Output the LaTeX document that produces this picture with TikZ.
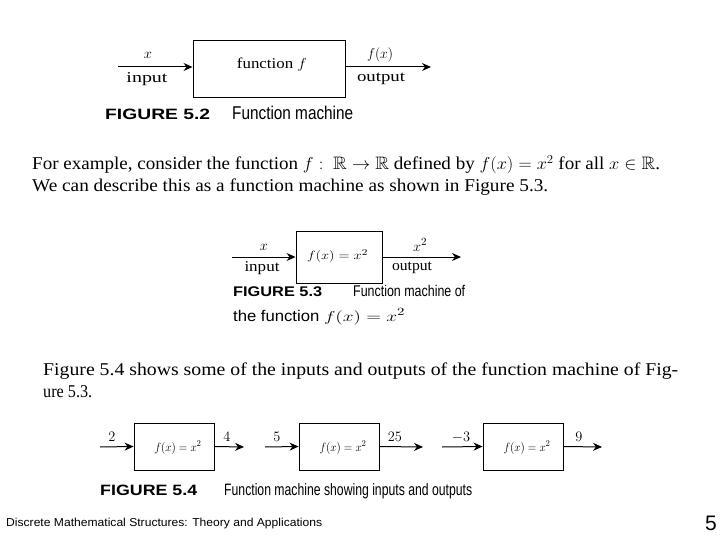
\documentclass[tikz,border=0pt]{standalone}
\usepackage{amssymb}
\usepackage{graphicx}
\usepackage{fontspec}
\setmainfont{Liberation Serif}
\newfontfamily\capsans{Liberation Sans}
\newfontfamily\condsans[FakeStretch=0.8]{Liberation Sans}
\newfontfamily\footsans[FakeStretch=0.92]{Liberation Sans}
\usetikzlibrary{arrows.meta}
\newcommand{\fw}[2]{\resizebox{#1}{\height}{#2}}
\begin{document}
\begin{tikzpicture}[x=1pt,y=-1pt,
  mbox/.style={draw,line width=0.9pt,inner sep=0pt},
  flow/.style={line width=1pt,-{Stealth[length=9pt,width=8pt]}},
  lbl/.style={font=\fontsize{15}{15}\selectfont,inner sep=0pt},
  body/.style={font=\fontsize{18}{18}\selectfont,anchor=base west,inner sep=0pt},
  figcap/.style={font=\capsans\bfseries\fontsize{15}{15}\selectfont,anchor=base west,inner sep=0pt},
  captxt/.style={font=\condsans\fontsize{18.5}{18.5}\selectfont,anchor=base west,inner sep=0pt}]
\useasboundingbox (0,0) rectangle (720,540);
% ---------- Figure 5.2
\node[mbox,minimum width=152pt,minimum height=57pt] (m1) at (269,68.5) {};
\node[lbl] (m1t) at (272,65) {\fw{70pt}{function $f$}};
\coordinate (i1) at (118,67);
\coordinate (o1) at (431,67);
\draw[flow] (i1) -- (i1 -| m1.west);
\draw[flow] (o1 -| m1.east) -- (o1);
\node[lbl] (x1) at (148,55) {$x$};
\node[lbl] (in1) at (147,79) {\fw{41pt}{input}};
\node[lbl] (fx1) at (380,55) {\fw{26pt}{$f(x)$}};
\node[lbl] (out1) at (381,79) {\fw{48pt}{output}};
\node[figcap] (c52) at (105,120) {\fw{105pt}{FIGURE 5.2}};
\node[captxt] (c52t) at (232,120) {\fw{121pt}{Function machine}};
% ---------- Paragraph 1
\node[body] (p1) at (32,170) {\fw{628pt}{For example, consider the function $f:\ \mathbb{R}\to\mathbb{R}$ defined by $f(x)=x^2$ for all $x\in\mathbb{R}$.}};
\node[body] (p2) at (32,192) {\fw{516pt}{We can describe this as a function machine as shown in Figure 5.3.}};
% ---------- Figure 5.3
\node[mbox,minimum width=86pt,minimum height=52pt] (m2) at (339,257) {};
\node[lbl,font=\fontsize{13}{13}\selectfont] (m2t) at (337.5,256) {\fw{61pt}{$f(x)=x^2$}};
\coordinate (i2) at (232,257);
\coordinate (o2) at (461,257);
\draw[flow] (i2) -- (m2.west);
\draw[flow] (m2.east) -- (o2);
\node[lbl] (x2) at (264,247) {$x$};
\node[lbl] (in2) at (262,268) {\fw{35pt}{input}};
\node[lbl] (xx2) at (420,245) {$x^2$};
\node[lbl] (out2) at (412,268) {\fw{40pt}{output}};
\node[figcap,font=\capsans\bfseries\fontsize{14}{14}\selectfont] (c53) at (233,296) {\fw{89pt}{FIGURE 5.3}};
\node[captxt,font=\condsans\fontsize{15.5}{15.5}\selectfont] (c53t) at (353,296) {\fw{112pt}{Function machine of}};
\node[captxt,font=\condsans\fontsize{15.5}{15.5}\selectfont] (c53u) at (233,321) {\fw{172pt}{the function $f(x)=x^2$}};
% ---------- Paragraph 2
\node[body] (p3) at (43,375) {\fw{635pt}{Figure 5.4 shows some of the inputs and outputs of the function machine of Fig-}};
\node[body] (p4) at (43,397) {\fw{49pt}{ure 5.3.}};
% ---------- Figure 5.4
\tikzset{sbox/.style={mbox,minimum width=80pt,minimum height=47pt}}
\node[sbox] (b1) at (174,446.5) {};
\node[sbox] (b2) at (339,446.5) {};
\node[sbox] (b3) at (523,446.5) {};
\foreach \b in {b1,b2,b3}{\node[lbl,font=\fontsize{13}{13}\selectfont] at ([xshift=4pt,yshift=-1pt]\b) {\fw{47pt}{$f(x)=x^2$}};}
\coordinate (a1) at (100,447);
\coordinate (a2) at (244,447);
\coordinate (a3) at (265,447);
\coordinate (a4) at (423,447);
\coordinate (a5) at (442,447);
\coordinate (a6) at (602,447);
\draw[flow] (a1) -- (b1.west);
\draw[flow] (b1.east) -- (a2);
\draw[flow] (a3) -- (b2.west);
\draw[flow] (b2.east) -- (a4);
\draw[flow] (a5) -- (b3.west);
\draw[flow] (b3.east) -- (a6);
\node[lbl] (n2) at (112,437) {$2$};
\node[lbl] (n4) at (227,437) {$4$};
\node[lbl] (n5) at (277,437) {$5$};
\node[lbl] (n25) at (395,437) {$25$};
\node[lbl] (nm3) at (461,437) {$-3$};
\node[lbl] (n9) at (579,437) {$9$};
\node[figcap] (c54) at (100,495) {\fw{97pt}{FIGURE 5.4}};
\node[captxt,font=\condsans\fontsize{16.5}{16.5}\selectfont] (c54t) at (224,495) {\fw{248pt}{Function machine showing inputs and outputs}};
% ---------- Footer
\node[font=\footsans\fontsize{11.5}{12}\selectfont,anchor=base west,inner sep=0pt] (foot) at (6,526) {\fw{316pt}{Discrete Mathematical Structures: Theory and Applications}};
\node[font=\capsans\fontsize{21}{21}\selectfont,anchor=base east,inner sep=0pt] (pg) at (717,530) {5};
\end{tikzpicture}
\end{document}
